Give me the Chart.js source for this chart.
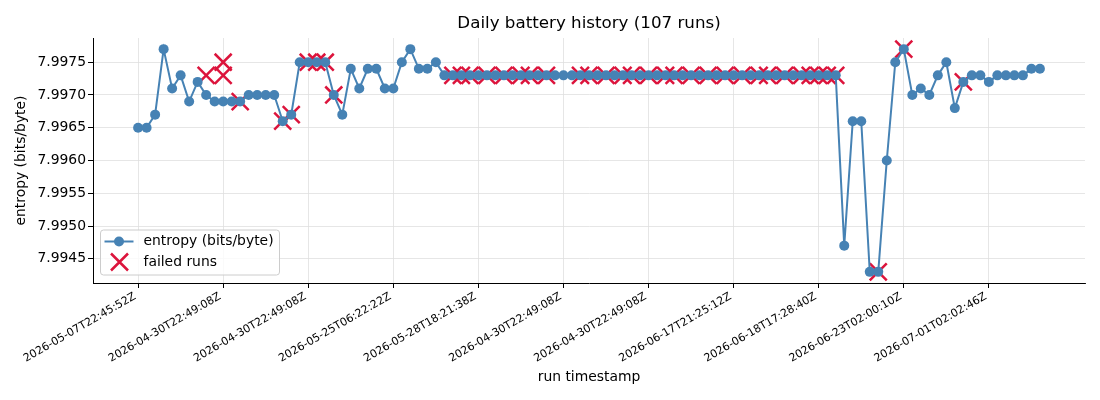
<!DOCTYPE html>
<html>
<head>
<meta charset="utf-8">
<script src="https://cdn.jsdelivr.net/npm/chart.js@4.4.1/dist/chart.umd.min.js"></script>
<style>
  html, body { margin: 0; padding: 0; background: #fff; }
  #wrap { width: 1100px; height: 400px; }
</style>
</head>
<body>
<div id="wrap"><canvas id="myChart" width="1100" height="400"></canvas></div>
<script>
// Entropy per run (bits/byte), one value per run in run order
const entropy = [
  7.9965, 7.9965, 7.9967, 7.9977, 7.9971, 7.9973, 7.9969, 7.9972, 7.9970, 7.9969,
  7.9969, 7.9969, 7.9969, 7.9970, 7.9970, 7.9970, 7.9970, 7.9966, 7.9967, 7.9975,
  7.9975, 7.9975, 7.9975, 7.9970, 7.9967, 7.9974, 7.9971, 7.9974, 7.9974, 7.9971,
  7.9971, 7.9975, 7.9977, 7.9974, 7.9974, 7.9975, 7.9973, 7.9973, 7.9973, 7.9973,
  7.9973, 7.9973, 7.9973, 7.9973, 7.9973, 7.9973, 7.9973, 7.9973, 7.9973, 7.9973,
  7.9973, 7.9973, 7.9973, 7.9973, 7.9973, 7.9973, 7.9973, 7.9973, 7.9973, 7.9973,
  7.9973, 7.9973, 7.9973, 7.9973, 7.9973, 7.9973, 7.9973, 7.9973, 7.9973, 7.9973,
  7.9973, 7.9973, 7.9973, 7.9973, 7.9973, 7.9973, 7.9973, 7.9973, 7.9973, 7.9973,
  7.9973, 7.9973, 7.9973, 7.9947, 7.9966, 7.9966, 7.9943, 7.9943, 7.9960, 7.9975,
  7.9977, 7.9970, 7.9971, 7.9970, 7.9973, 7.9975, 7.9968, 7.9972, 7.9973, 7.9973,
  7.9972, 7.9973, 7.9973, 7.9973, 7.9973, 7.9974, 7.9974
];

// Failed runs: position on the x axis and entropy value
const failedIdx = [
  8, 10, 10, 12, 17, 18, 20, 21, 22, 23,
  37, 38, 39, 41, 43, 45, 46, 48, 52, 53, 55, 57, 58, 60, 62, 63, 65, 67,
  69, 71, 73, 74, 76, 78, 79, 80, 81, 82,
  87, 90, 97
];
const failedVal = [
  7.9973, 7.9975, 7.9973, 7.9969, 7.9966, 7.9967, 7.9975, 7.9975, 7.9975, 7.9970,
  7.9973, 7.9973, 7.9973, 7.9973, 7.9973, 7.9973, 7.9973, 7.9973, 7.9973, 7.9973,
  7.9973, 7.9973, 7.9973, 7.9973, 7.9973, 7.9973, 7.9973, 7.9973,
  7.9973, 7.9973, 7.9973, 7.9973, 7.9973, 7.9973, 7.9973, 7.9973, 7.9973, 7.9973,
  7.9943, 7.9977, 7.9972
];

// Tick positions and labels of the x axis
const tickIdx = [0, 10, 20, 30, 40, 50, 60, 70, 80, 90, 100];
const tickLabels = [
  "2026-05-07T22:45:52Z", "2026-04-30T22:49:08Z", "2026-04-30T22:49:08Z",
  "2026-05-25T06:22:22Z", "2026-05-28T18:21:38Z", "2026-04-30T22:49:08Z",
  "2026-04-30T22:49:08Z", "2026-06-17T21:25:12Z", "2026-06-18T17:28:40Z",
  "2026-06-23T02:00:10Z", "2026-07-01T02:02:46Z"
];
const yTicks = [7.9945, 7.9950, 7.9955, 7.9960, 7.9965, 7.9970, 7.9975];

const FONT = '"DejaVu Sans", sans-serif';
const BLUE = '#4682B4';
const RED = '#DC143C';

// Title centred over the plot area
const titlePlugin = {
  id: 'titlePlugin',
  afterDraw(chart) {
    const ctx = chart.ctx;
    const a = chart.chartArea;
    ctx.save();
    ctx.font = '16.7px ' + FONT;
    ctx.fillStyle = '#000';
    ctx.textAlign = 'center';
    ctx.textBaseline = 'middle';
    ctx.fillText('Daily battery history (107 runs)', (a.left + a.right) / 2, 24);
    ctx.restore();
  }
};

// Legend box in the lower left corner of the plot
const legendPlugin = {
  id: 'legendPlugin',
  afterDraw(chart) {
    const ctx = chart.ctx;
    const a = chart.chartArea;
    const x0 = a.left + 7.5, y0 = a.bottom - 53, w = 179, h = 45;
    ctx.save();
    ctx.beginPath();
    ctx.roundRect(x0, y0, w, h, 3);
    ctx.fillStyle = 'rgba(255,255,255,0.8)';
    ctx.fill();
    ctx.strokeStyle = '#cccccc';
    ctx.lineWidth = 1;
    ctx.stroke();

    // line + circle
    const y1 = y0 + 11.5;
    ctx.strokeStyle = BLUE;
    ctx.lineWidth = 2;
    ctx.beginPath();
    ctx.moveTo(x0 + 4, y1);
    ctx.lineTo(x0 + 33, y1);
    ctx.stroke();
    ctx.fillStyle = BLUE;
    ctx.beginPath();
    ctx.arc(x0 + 18.5, y1, 5, 0, Math.PI * 2);
    ctx.fill();

    // cross
    const y2 = y0 + 32, cx = x0 + 19, r = 8.5;
    ctx.strokeStyle = RED;
    ctx.lineWidth = 2.5;
    ctx.beginPath();
    ctx.moveTo(cx - r, y2 - r); ctx.lineTo(cx + r, y2 + r);
    ctx.moveTo(cx - r, y2 + r); ctx.lineTo(cx + r, y2 - r);
    ctx.stroke();

    ctx.fillStyle = '#000';
    ctx.font = '13.9px ' + FONT;
    ctx.textAlign = 'left';
    ctx.textBaseline = 'middle';
    ctx.fillText('entropy (bits/byte)', x0 + 43, y1);
    ctx.fillText('failed runs', x0 + 43, y2);
    ctx.restore();
  }
};

const ctx = document.getElementById('myChart');

new Chart(ctx, {
  type: 'scatter',
  data: {
    datasets: [
      {
        type: 'line',
        label: 'entropy (bits/byte)',
        data: entropy.map((v, i) => ({ x: i, y: v })),
        borderColor: BLUE,
        backgroundColor: BLUE,
        borderWidth: 2,
        pointRadius: 5,
        pointBorderWidth: 0,
        pointHoverRadius: 5,
        tension: 0,
        order: 0
      },
      {
        label: 'failed runs',
        data: failedIdx.map((x, i) => ({ x: x, y: failedVal[i] })),
        pointStyle: 'crossRot',
        pointRadius: 12,
        pointHoverRadius: 12,
        borderColor: RED,
        backgroundColor: RED,
        pointBorderWidth: 2.5,
        order: 1
      }
    ]
  },
  options: {
    responsive: false,
    animation: false,
    devicePixelRatio: 1,
    layout: { padding: { left: 0, right: 15, top: 38, bottom: 0 } },
    plugins: {
      legend: { display: false },
      title: { display: false },
      tooltip: { enabled: false }
    },
    scales: {
      x: {
        type: 'linear',
        min: -5.3,
        max: 111.3,
        afterBuildTicks: (scale) => { scale.ticks = tickIdx.map(v => ({ value: v })); },
        afterFit: (scale) => { scale.height = 117; },
        ticks: {
          autoSkip: false,
          minRotation: 30,
          maxRotation: 30,
          padding: 2,
          labelOffset: -3,
          color: '#000',
          font: { family: FONT, size: 11 },
          callback: (value) => tickLabels[tickIdx.indexOf(value)]
        },
        grid: { color: '#e0e0e0', lineWidth: 0.8, tickColor: '#000', tickLength: 5, tickWidth: 1 },
        border: { display: true, color: '#000', width: 1 },
        title: {
          display: true,
          text: 'run timestamp',
          color: '#000',
          font: { family: FONT, size: 13.9 },
          padding: { top: 0, bottom: 14.7 }
        }
      },
      y: {
        min: 7.99413,
        max: 7.99787,
        afterBuildTicks: (scale) => { scale.ticks = yTicks.map(v => ({ value: v })); },
        afterFit: (scale) => { scale.width = 93; },
        ticks: {
          padding: 2,
          color: '#000',
          font: { family: FONT, size: 13.9 },
          callback: (value) => Number(value).toFixed(4)
        },
        grid: { color: '#e0e0e0', lineWidth: 0.8, tickColor: '#000', tickLength: 5, tickWidth: 1 },
        border: { display: true, color: '#000', width: 1 },
        title: {
          display: true,
          text: 'entropy (bits/byte)',
          color: '#000',
          font: { family: FONT, size: 13.9 },
          padding: { top: 12.7, bottom: 0 }
        }
      }
    }
  },
  plugins: [titlePlugin, legendPlugin]
});
</script>
</body>
</html>
